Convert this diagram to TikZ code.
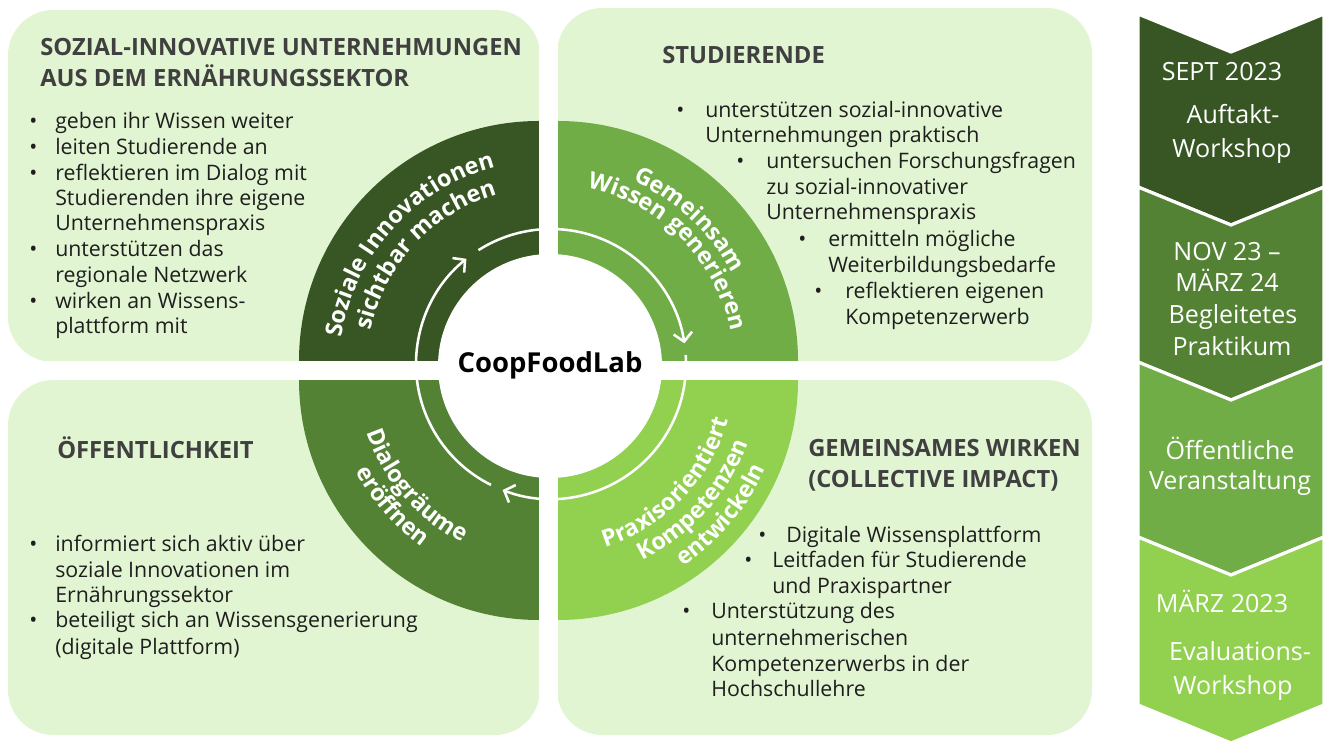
\documentclass[tikz,border=0pt]{standalone}
\usepackage{fontspec}
\setmainfont{Open Sans}
\usetikzlibrary{arrows.meta,decorations.text}
\definecolor{boxg}{HTML}{E2F5D2}
\definecolor{gA}{HTML}{375623}
\definecolor{gB}{HTML}{548235}
\definecolor{gC}{HTML}{70AD47}
\definecolor{gD}{HTML}{92D050}
\definecolor{headc}{HTML}{404040}
\definecolor{bodyc}{HTML}{1E1E1E}
\newcommand\ringfnt{\color{white}\bfseries\fontsize{17.5}{20}\selectfont}
\tikzset{
  panel/.style={fill=boxg, rounded corners=34pt},
  body/.style={font=\fontsize{16}{19.5}\selectfont, text=bodyc, anchor=base west, inner sep=0pt},
  head/.style={font=\bfseries\fontsize{17.8}{22}\selectfont, text=headc, anchor=base west, inner sep=0pt},
  chevtxt/.style={font=\fontsize{18.8}{22}\selectfont, text=white, anchor=base, inner sep=0pt},
  chevseg/.style={draw=white, line width=2.4pt, line join=miter},
  cyclearrow/.style={draw=white, line width=1.9pt, -{Straight Barb[length=6.5pt,width=14pt,line width=1.9pt]}},
  ringtext/.style={decorate, decoration={text along path, text align=center, text={|\ringfnt|#1}}}
}
\begin{document}
\begin{tikzpicture}[x=0.75pt,y=0.75pt]
\useasboundingbox (0,0) rectangle (1333,742);
% panels
\path[panel] (8,742-10) rectangle (540,742-362);
\path[panel] (557,742-8) rectangle (1092,742-362);
\path[panel] (8,742-380) rectangle (540,742-735);
\path[panel] (557,742-380) rectangle (1092,742-735);
% quadrants
\fill[gA] (539,381) -- ++(180:240) arc[start angle=180,end angle=90,radius=240] -- cycle;
\fill[gC] (558,381) -- ++(90:240) arc[start angle=90,end angle=0,radius=240] -- cycle;
\fill[gB] (539,362) -- ++(270:240) arc[start angle=270,end angle=180,radius=240] -- cycle;
\fill[gD] (558,362) -- ++(0:240) arc[start angle=0,end angle=-90,radius=240] -- cycle;
% white gaps
\fill[white] (539,0) rectangle (558,742-8);
\fill[white] (0,362) rectangle (1100,381);
% centre
\fill[white] (550,376) circle[radius=112];
\node[font=\bfseries\fontsize{20.6}{24}\selectfont, text=black, inner sep=0pt] (centre) at (550,742-365) {CoopFoodLab};
% cycle arrows
\coordinate (AC) at (551,378);
\draw[cyclearrow] ([shift={(243.6:135)}]AC) arc[start angle=243.6,end angle=128.8,radius=135];
\draw[cyclearrow] ([shift={(122.5:135)}]AC) arc[start angle=122.5,end angle=8.8,radius=135];
\draw[cyclearrow] ([shift={(3.8:135)}]AC) arc[start angle=3.8,end angle=-111,radius=135];
% ring texts
\coordinate (RC) at (549,372);
\foreach \txt/\sa/\ea/\r in {
  Soziale Innovationen/188/88/210,
  sichtbar machen/187/87/183,
  Gemeinsam/97/-3/207,
  Wissen generieren/95/-5/186,
  Dialogräume/171/271/193,
  eröffnen/171/271/218,
  Praxisorientiert/-94/6/186,
  Kompetenzen/-92/8/212,
  entwickeln/-90/10/238}
{
  \path[ringtext={\txt}] ([shift={(\sa:\r)}]RC) arc[start angle=\sa,end angle=\ea,radius=\r];
}
% headings
\node[head] (h1a) at (40,742-56) {SOZIAL-INNOVATIVE UNTERNEHMUNGEN};
\node[head] (h1b) at (40,742-87) {AUS DEM ERNÄHRUNGSSEKTOR};
\node[head] (h2) at (662,742-64) {STUDIERENDE};
\node[head] (h3) at (57,742-459) {ÖFFENTLICHKEIT};
\node[head] (h4a) at (808,742-457) {GEMEINSAMES WIRKEN};
\node[head] (h4b) at (808,742-488) {(COLLECTIVE IMPACT)};
% TL body
\foreach \t/\y [count=\i] in {geben ihr Wissen weiter/122, leiten Studierende an/148, reflektieren im Dialog mit/174, Studierenden ihre eigene/199, Unternehmenspraxis/224, unterstützen das/250, regionale Netzwerk/276, wirken an Wissens-/302, plattform mit/327}
  \node[body] (tl\i) at (55,742-\y-7) {\t};
\foreach \y [count=\i] in {122,148,174,250,302}
  \node[body] (tlb\i) at (29,742-\y-7) {•};
% TR body
\node[body] (tr1) at (705,742-118) {unterstützen sozial-innovative};
\node[body] (tr2) at (705,742-143) {Unternehmungen praktisch};
\node[body] (tr3) at (766,742-169) {untersuchen Forschungsfragen};
\node[body] (tr4) at (766,742-195) {zu sozial-innovativer};
\node[body] (tr5) at (766,742-220) {Unternehmenspraxis};
\node[body] (tr6) at (828,742-247) {ermitteln mögliche};
\node[body] (tr7) at (828,742-273) {Weiterbildungsbedarfe};
\node[body] (tr8) at (845,742-299) {reflektieren eigenen};
\node[body] (tr9) at (845,742-325) {Kompetenzerwerb};
\node[body] (trb1) at (676,742-118) {•};
\node[body] (trb2) at (736,742-169) {•};
\node[body] (trb3) at (798,742-247) {•};
\node[body] (trb4) at (814,742-299) {•};
% BL body
\foreach \t/\y [count=\i] in {informiert sich aktiv über/545, soziale Innovationen im/571, Ernährungssektor/596, beteiligt sich an Wissensgenerierung/621, (digitale Plattform)/647}
  \node[body] (bl\i) at (55,742-\y-7) {\t};
\node[body] (blb1) at (29,742-552) {•};
\node[body] (blb2) at (29,742-628) {•};
% BR body
\node[body] (br1) at (786,742-543) {Digitale Wissensplattform};
\node[body] (br2) at (772,742-568) {Leitfaden für Studierende};
\node[body] (br3) at (772,742-594) {und Praxispartner};
\node[body] (br4) at (711,742-619) {Unterstützung des};
\node[body] (br5) at (711,742-645) {unternehmerischen};
\node[body] (br6) at (711,742-671) {Kompetenzerwerbs in der};
\node[body] (br7) at (711,742-696) {Hochschullehre};
\node[body] (brb1) at (758,742-543) {•};
\node[body] (brb2) at (744,742-568) {•};
\node[body] (brb3) at (682,742-619) {•};
% chevrons
\foreach \ya/\yb/\c [count=\i] in {14/187/gA, 187/362/gB, 362/537/gC, 537/705/gD}
  \path[chevseg, fill=\c] (1138,742-\ya) -- (1231,742-\ya-38) -- (1324,742-\ya) -- (1324,742-\yb) -- (1231,742-\yb-38) -- (1138,742-\yb) -- cycle;
\node[chevtxt] (c1a) at (1222,742-81) {SEPT 2023};
\node[chevtxt] (c1b) at (1233,742-124) {Auftakt-};
\node[chevtxt] (c1c) at (1232,742-158) {Workshop};
\node[chevtxt] (c2a) at (1227,742-261) {NOV 23 –};
\node[chevtxt] (c2b) at (1227,742-292) {MÄRZ 24};
\node[chevtxt] (c2c) at (1233,742-324) {Begleitetes};
\node[chevtxt] (c2d) at (1232,742-356) {Praktikum};
\node[chevtxt] (c3a) at (1230,742-460) {Öffentliche};
\node[chevtxt] (c3b) at (1230,742-490) {Veranstaltung};
\node[chevtxt] (c4a) at (1222,742-613) {MÄRZ 2023};
\node[chevtxt] (c4b) at (1240,742-660) {Evaluations-};
\node[chevtxt] (c4c) at (1233,742-694) {Workshop};
\end{tikzpicture}
\end{document}
